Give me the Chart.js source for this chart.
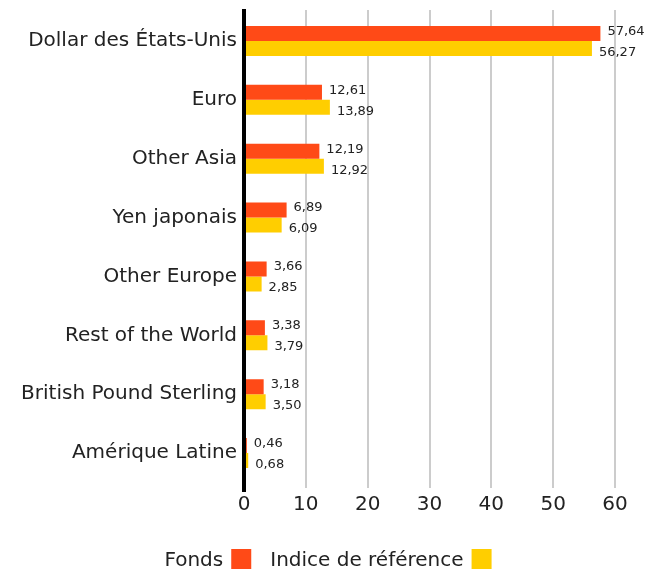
<!DOCTYPE html>
<html>
<head>
<meta charset="utf-8">
<script src="https://cdn.jsdelivr.net/npm/chart.js@4.4.1/dist/chart.umd.min.js"></script>
<style>
  html, body { margin: 0; padding: 0; background: #fff; }
  #wrap { width: 662px; height: 574px; position: relative; }
</style>
</head>
<body>
<div id="wrap"><canvas id="chart"></canvas></div>
<script>
// Data
var categories = [
    "Dollar des États-Unis",
    "Euro",
    "Other Asia",
    "Yen japonais",
    "Other Europe",
    "Rest of the World",
    "British Pound Sterling",
    "Amérique Latine"
];
var fonds = [57.64, 12.61, 12.19, 6.89, 3.66, 3.38, 3.18, 0.46];
var indice = [56.27, 13.89, 12.92, 6.09, 2.85, 3.79, 3.50, 0.68];
var xTicks = [0, 10, 20, 30, 40, 50, 60];

var FONT = "'DejaVu Sans', sans-serif";
var ORANGE = "#ff4a17";
var YELLOW = "#ffce00";

// grid lines and the black axis, a bit taller than the bar area
var gridPlugin = {
    id: "grid",
    beforeDatasetsDraw: function (chart) {
        var ctx = chart.ctx;
        var xs = chart.scales.x;
        var area = chart.chartArea;
        ctx.save();
        ctx.strokeStyle = "#cccccc";
        ctx.lineWidth = 2;
        xTicks.forEach(function (v) {
            if (v === 0) return;
            var px = Math.round(xs.getPixelForValue(v));
            ctx.beginPath();
            ctx.moveTo(px, area.top - 1.5);
            ctx.lineTo(px, area.bottom + 5.5);
            ctx.stroke();
        });
        ctx.restore();
    },
    afterDatasetsDraw: function (chart) {
        var ctx = chart.ctx;
        var area = chart.chartArea;
        ctx.save();
        ctx.fillStyle = "#000";
        ctx.fillRect(area.left - 2, area.top - 2.5, 4, area.bottom - area.top + 12);
        ctx.restore();
    }
};

// value labels next to each bar, plus the legend (text first, box after)
var labelPlugin = {
    id: "labels",
    afterDatasetsDraw: function (chart) {
        var ctx = chart.ctx;
        ctx.save();
        ctx.font = "13px " + FONT;
        ctx.fillStyle = "#222";
        ctx.textAlign = "left";
        ctx.textBaseline = "middle";
        chart.data.datasets.forEach(function (ds, i) {
            var meta = chart.getDatasetMeta(i);
            var shift = i === 0 ? -2 : 4;
            meta.data.forEach(function (bar, j) {
                var txt = ds.data[j].toFixed(2).replace(".", ",");
                ctx.fillText(txt, bar.x + 7, bar.y + shift);
            });
        });
        ctx.restore();
    },
    afterDraw: function (chart) {
        var ctx = chart.ctx;
        ctx.save();
        ctx.font = "20px " + FONT;
        ctx.textBaseline = "middle";
        ctx.textAlign = "left";
        var box = 20, gapText = 8, gapItem = 19;
        var items = chart.data.datasets;
        var total = 0;
        items.forEach(function (ds, i) {
            total += ctx.measureText(ds.label).width + gapText + box;
            if (i < items.length - 1) total += gapItem;
        });
        var x = (chart.width - total) / 2 - 3;
        var y = 561;
        items.forEach(function (ds) {
            ctx.fillStyle = "#222";
            ctx.fillText(ds.label, x, y);
            x += ctx.measureText(ds.label).width + gapText;
            ctx.fillStyle = ds.backgroundColor;
            ctx.fillRect(x, y - box / 2 - 2, box, box);
            x += box + gapItem;
        });
        ctx.restore();
    }
};

var chartData = {
    labels: categories,
    datasets: [
        {
            label: "Fonds",
            data: fonds,
            backgroundColor: ORANGE,
        },
        {
            label: "Indice de référence",
            data: indice,
            backgroundColor: YELLOW,
        },
    ],
};

var chartOptions = {
    indexAxis: "y",
    responsive: true,
    maintainAspectRatio: false,
    animation: false,
    layout: {
        padding: { top: 11.5, right: 47, bottom: 46.5, left: 0 },
    },
    datasets: {
        bar: {
            categoryPercentage: 0.51,
            barPercentage: 1.0,
        },
    },
    plugins: {
        legend: { display: false },
        tooltip: { enabled: false },
    },
    scales: {
        x: {
            min: 0,
            max: 60,
            afterBuildTicks: function (scale) {
                scale.ticks = xTicks.map(function (v) { return { value: v }; });
            },
            grid: { display: false, drawTicks: false },
            border: { display: false },
            ticks: {
                color: "#222",
                padding: 10.5,
                font: { family: FONT, size: 20 },
            },
        },
        y: {
            grid: { display: false, drawTicks: false },
            border: { display: false },
            afterFit: function (scale) {
                scale.width = 244;
                scale.paddingTop = 0;
                scale.paddingBottom = 0;
            },
            ticks: {
                color: "#222",
                padding: 7,
                font: { family: FONT, size: 20 },
            },
        },
    },
};

new Chart(document.getElementById("chart").getContext("2d"), {
    type: "bar",
    data: chartData,
    options: chartOptions,
    plugins: [gridPlugin, labelPlugin],
});
</script>
</body>
</html>
